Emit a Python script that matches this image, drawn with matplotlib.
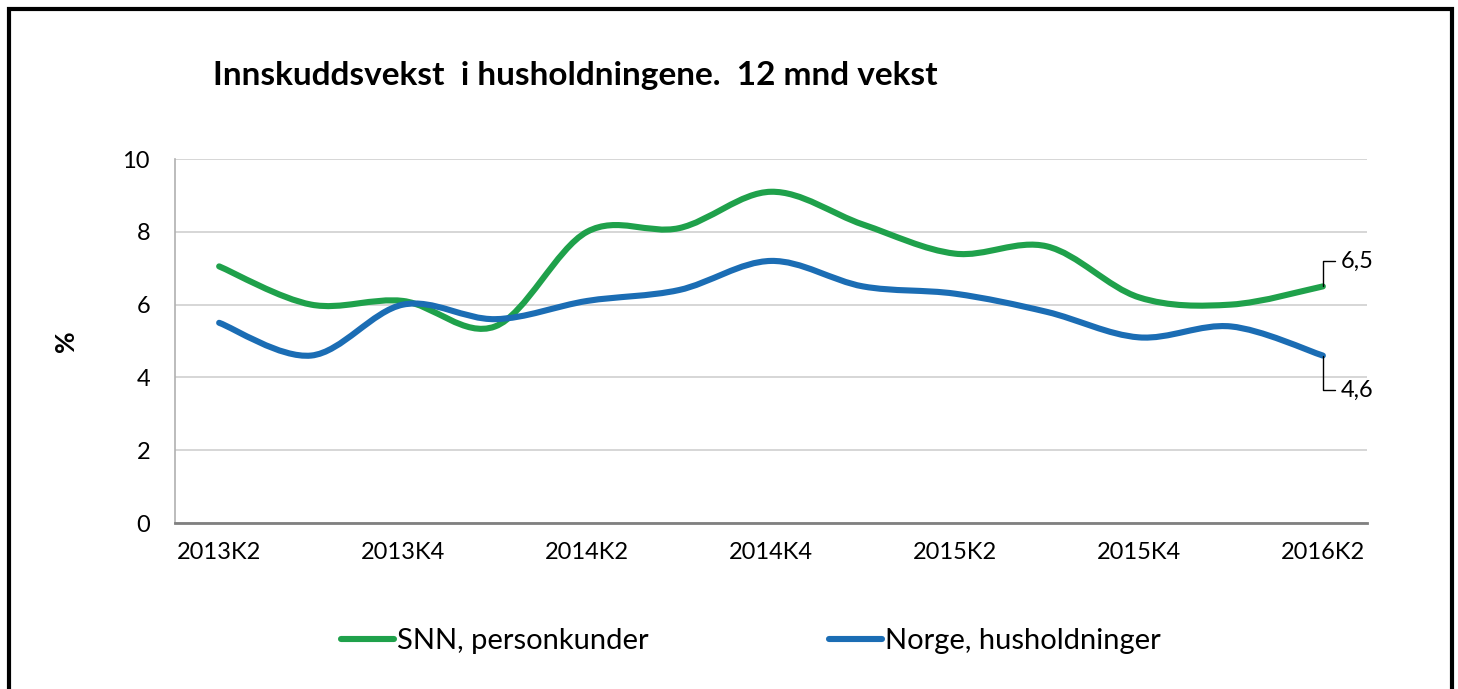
import matplotlib.pyplot as plt
from matplotlib.path import Path
from matplotlib.patches import PathPatch, Rectangle
from matplotlib.lines import Line2D
import numpy as np

plt.rcParams["font.family"] = ["Lato", "DejaVu Sans"]

quarters = ["2013K2", "2013K3", "2013K4", "2014K1", "2014K2", "2014K3", "2014K4",
            "2015K1", "2015K2", "2015K3", "2015K4", "2016K1", "2016K2"]
snn = [7.05, 6.0, 6.1, 5.4, 8.0, 8.1, 9.1, 8.2, 7.4, 7.6, 6.2, 6.0, 6.5]
norge = [5.5, 4.6, 6.0, 5.6, 6.1, 6.4, 7.2, 6.5, 6.3, 5.8, 5.1, 5.4, 4.6]

GREEN = "#1fa14b"
BLUE = "#1b6db4"


def smooth_path(x, y):
    # Excel-style smoothed line: cubic bezier through the points
    pts = np.column_stack([x, y]).astype(float)
    n = len(pts)
    verts = [pts[0]]
    codes = [Path.MOVETO]
    for i in range(n - 1):
        p0 = pts[max(i - 1, 0)]
        p1 = pts[i]
        p2 = pts[i + 1]
        p3 = pts[min(i + 2, n - 1)]
        verts += [p1 + (p2 - p0) / 6, p2 - (p3 - p1) / 6, p2]
        codes += [Path.CURVE4] * 3
    return Path(verts, codes)


fig = plt.figure(figsize=(14.58, 6.89), dpi=100)
ax = fig.add_axes([175 / 1458, 1 - 523 / 689, (1367 - 175) / 1458, (523 - 159) / 689])

x = np.arange(len(quarters))
for vals, col in [(snn, GREEN), (norge, BLUE)]:
    ax.add_patch(PathPatch(smooth_path(x, vals), fill=False, edgecolor=col,
                           lw=4.4, capstyle="round", joinstyle="round", zorder=3))

ax.set_xlim(-0.48, len(quarters) - 0.52)
ax.set_ylim(0, 10)
ax.set_yticks(range(0, 11, 2))
ax.set_xticks(x[::2])
ax.set_xticklabels(quarters[::2])
ax.tick_params(length=0, labelsize=17, pad=14)
ax.tick_params(axis="y", pad=18)
ax.grid(axis="y", color="#d0d0d0", lw=1.2)
ax.set_axisbelow(True)
for s in ["top", "right"]:
    ax.spines[s].set_visible(False)
ax.spines["left"].set_color("#b0b0b0")
ax.spines["left"].set_linewidth(1.2)
ax.spines["bottom"].set_color("#808080")
ax.spines["bottom"].set_linewidth(2)

ax.set_ylabel("%", fontsize=19, fontweight="bold", va="center")
ax.yaxis.set_label_coords(-(175 - 66) / 1192, 0.5)

# end-point labels with leader lines
for val, dy in [(snn[-1], 18), (norge[-1], -25)]:
    ax.annotate(f"{val:.1f}".replace(".", ","), xy=(x[-1], val), xytext=(13, dy),
                textcoords="offset points", fontsize=17, va="center", ha="left",
                arrowprops=dict(arrowstyle="-", color="black", lw=1,
                                connectionstyle="angle,angleA=0,angleB=90,rad=0",
                                shrinkA=2, shrinkB=0))

fig.text(213 / 1458, 1 - 76 / 689, "Innskuddsvekst  i husholdningene.  12 mnd vekst",
         fontsize=24, fontweight="bold", va="center", ha="left")

handles = [Line2D([], [], color=GREEN, lw=4.4, solid_capstyle="round"),
           Line2D([], [], color=BLUE, lw=4.4, solid_capstyle="round")]
fig.legend(handles, ["SNN, personkunder", "Norge, husholdninger"],
           loc="center", bbox_to_anchor=(751 / 1458, 1 - 641 / 689), ncol=2,
           frameon=False, fontsize=21, handlelength=1.8, handletextpad=0.1,
           columnspacing=6.2)

fig.add_artist(Rectangle((9 / 1458, -0.1), (1452 - 9) / 1458, 1.1 - 9 / 689,
                         transform=fig.transFigure, fill=False, lw=3, ec="black"))

fig.savefig("out.png", dpi=100)
